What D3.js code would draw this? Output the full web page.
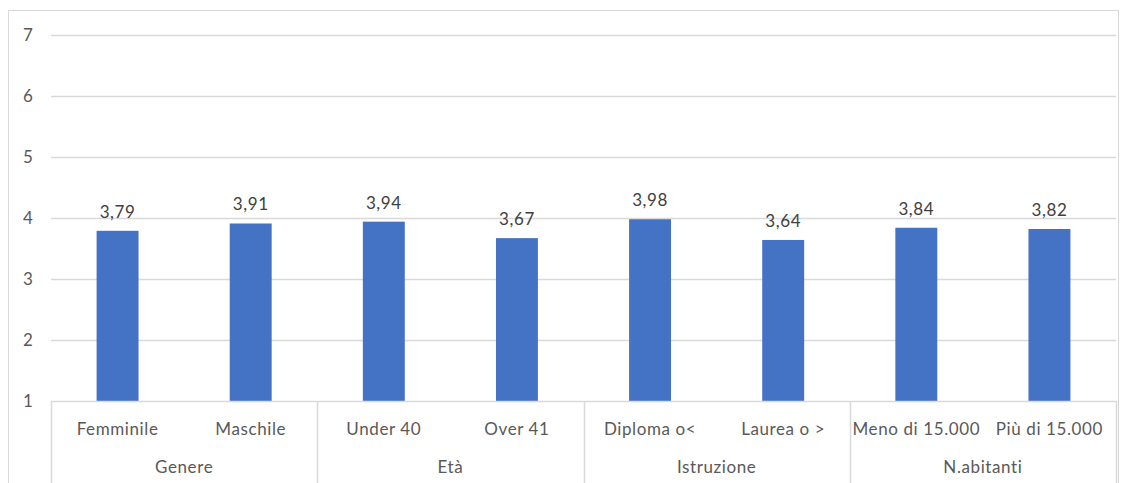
<!DOCTYPE html>
<html>
<head>
<meta charset="utf-8">
<script src="https://cdn.jsdelivr.net/npm/d3@7"></script>
<style>
  html, body { margin: 0; padding: 0; background: #fff; }
  svg { display: block; }
</style>
</head>
<body>
<svg id="chart" width="1129" height="483"></svg>
<script>
// Mean scores by respondent group
const categories = ["Femminile", "Maschile", "Under 40", "Over 41", "Diploma o<", "Laurea o >", "Meno di 15.000", "Più di 15.000"];
const groups = ["Genere", "Età", "Istruzione", "N.abitanti"];
const groupOf = [0, 0, 1, 1, 2, 2, 3, 3];
const values = [3.79, 3.91, 3.94, 3.67, 3.98, 3.64, 3.84, 3.82];
const yTicks = [1, 2, 3, 4, 5, 6, 7];

const svg = d3.select("#chart");
const font = "Lato, 'Open Sans', sans-serif";
const fontSize = 17;
const spacing = 0.6;
const m = { left: 51, right: 1116, top: 35, bottom: 401 };

// outer frame
svg.append("rect")
  .attr("x", 8.5).attr("y", 10.5)
  .attr("width", 1118 - 8).attr("height", 490)
  .attr("fill", "none").attr("stroke", "#d9d9d9").attr("stroke-width", 1);

const x = d3.scaleBand().domain(categories).range([m.left, m.right]).paddingInner(0).paddingOuter(0);
const y = d3.scaleLinear().domain([1, 7]).range([m.bottom, m.top]);

// horizontal gridlines
svg.append("g").selectAll("line")
  .data(yTicks.filter(t => t > 1))
  .join("line")
  .attr("x1", m.left).attr("x2", m.right)
  .attr("y1", d => Math.round(y(d)) + 0.5).attr("y2", d => Math.round(y(d)) + 0.5)
  .attr("stroke", "#d9d9d9").attr("stroke-width", 1.5);

// y tick labels
svg.append("g").selectAll("text")
  .data(yTicks)
  .join("text")
  .attr("x", 28).attr("y", d => y(d))
  .attr("dy", "0.35em")
  .attr("text-anchor", "middle")
  .attr("font-family", font).attr("font-size", fontSize)
  .attr("fill", "#595959")
  .text(d => d);

// bars
const barW = x.bandwidth() * 0.315;
svg.append("g").selectAll("rect")
  .data(values)
  .join("rect")
  .attr("x", (d, i) => x(categories[i]) + (x.bandwidth() - barW) / 2)
  .attr("y", d => y(d))
  .attr("width", barW)
  .attr("height", d => y(1) - y(d))
  .attr("fill", "#4472c4");

// value labels
svg.append("g").selectAll("text")
  .data(values)
  .join("text")
  .attr("x", (d, i) => x(categories[i]) + x.bandwidth() / 2)
  .attr("y", d => y(d) - 13)
  .attr("text-anchor", "middle")
  .attr("font-family", font).attr("font-size", fontSize)
  .attr("letter-spacing", spacing)
  .attr("fill", "#404040")
  .text(d => d3.format(".2f")(d).replace(".", ","));

// category axis: baseline, separators and labels
const axisColor = "#d9d9d9";
svg.append("line")
  .attr("x1", m.left).attr("x2", m.right)
  .attr("y1", m.bottom + 0.5).attr("y2", m.bottom + 0.5)
  .attr("stroke", axisColor).attr("stroke-width", 1.5);

const sepX = [m.left];
groups.forEach((g, gi) => {
  const idx = groupOf.map((v, i) => v === gi ? i : -1).filter(i => i >= 0);
  const last = categories[idx[idx.length - 1]];
  sepX.push(x(last) + x.bandwidth());
});
svg.append("g").selectAll("line")
  .data(sepX)
  .join("line")
  .attr("x1", d => Math.round(d) + 0.5).attr("x2", d => Math.round(d) + 0.5)
  .attr("y1", m.bottom).attr("y2", 483)
  .attr("stroke", axisColor).attr("stroke-width", 1.5);

svg.append("g").selectAll("text")
  .data(categories)
  .join("text")
  .attr("x", d => x(d) + x.bandwidth() / 2)
  .attr("y", 429).attr("dy", "0.35em")
  .attr("text-anchor", "middle")
  .attr("font-family", font).attr("font-size", fontSize)
  .attr("letter-spacing", spacing)
  .attr("fill", "#595959")
  .text(d => d);

svg.append("g").selectAll("text")
  .data(groups)
  .join("text")
  .attr("x", (d, gi) => (sepX[gi] + sepX[gi + 1]) / 2)
  .attr("y", 467).attr("dy", "0.35em")
  .attr("text-anchor", "middle")
  .attr("font-family", font).attr("font-size", fontSize)
  .attr("letter-spacing", spacing)
  .attr("fill", "#595959")
  .text(d => d);
</script>
</body>
</html>
